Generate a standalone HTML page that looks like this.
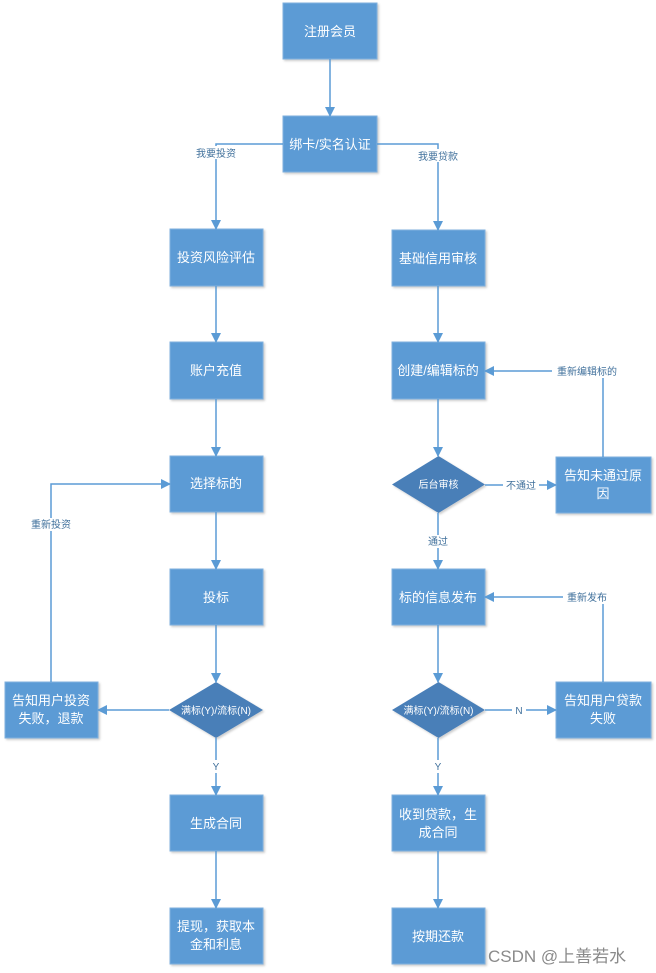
<!DOCTYPE html>
<html><head><meta charset="utf-8"><style>
html,body{margin:0;padding:0;background:#fff;}
svg{display:block;}
text{font-family:"Liberation Sans","Noto Sans CJK SC",sans-serif;}
.bt{fill:#fff;font-size:13px;text-anchor:middle;}
.lb{fill:#41719c;font-size:10px;text-anchor:middle;}
.ln{stroke:#5b9bd5;stroke-width:1.5;fill:none;}
</style></head><body>
<svg width="656" height="973" viewBox="0 0 656 973" xmlns="http://www.w3.org/2000/svg">
<defs>
<marker id="a" markerWidth="10" markerHeight="10" refX="9" refY="5" orient="auto" markerUnits="userSpaceOnUse"><path d="M0,0 L10,5 L0,10 z" fill="#5b9bd5"/></marker>
<filter id="s" x="-10%" y="-10%" width="130%" height="130%"><feDropShadow dx="1.5" dy="1.5" stdDeviation="1" flood-color="#000" flood-opacity="0.2"/></filter>
</defs>
<g fill="#5b9bd5" stroke="#7fb0de" stroke-width="1" filter="url(#s)">
<rect x="283" y="3" width="94" height="56"/>
<rect x="283" y="116" width="94" height="56"/>
<rect x="170" y="229" width="93" height="57"/>
<rect x="392" y="230" width="93" height="56"/>
<rect x="170" y="342" width="93" height="57"/>
<rect x="392" y="342" width="93" height="57"/>
<rect x="170" y="456" width="93" height="56"/>
<rect x="556" y="457" width="95" height="56"/>
<rect x="170" y="569" width="93" height="56"/>
<rect x="392" y="569" width="93" height="56"/>
<rect x="5" y="682" width="93" height="56"/>
<rect x="556" y="682" width="95" height="56"/>
<rect x="170" y="795" width="93" height="56"/>
<rect x="392" y="795" width="93" height="56"/>
<rect x="170" y="908" width="93" height="56"/>
<rect x="392" y="908" width="93" height="56"/>
</g>
<g fill="#4a7fb8" filter="url(#s)">
<polygon points="438.5,456 485,484.5 438.5,513 392,484.5"/>
<polygon points="216,682 263,710 216,738 169,710"/>
<polygon points="438.5,682 485,710 438.5,738 392,710"/>
</g>
<g class="ln">
<line x1="330" y1="59" x2="330" y2="116" marker-end="url(#a)"/>
<polyline points="283,144 216,144 216,229" marker-end="url(#a)"/>
<polyline points="377,144 438,144 438,230" marker-end="url(#a)"/>
<line x1="216" y1="286" x2="216" y2="342" marker-end="url(#a)"/>
<line x1="438" y1="286" x2="438" y2="342" marker-end="url(#a)"/>
<line x1="216" y1="399" x2="216" y2="456" marker-end="url(#a)"/>
<line x1="438" y1="399" x2="438" y2="456" marker-end="url(#a)"/>
<line x1="485" y1="485" x2="556" y2="485" marker-end="url(#a)"/>
<polyline points="603,457 603,371 485,371" marker-end="url(#a)"/>
<line x1="438" y1="513" x2="438" y2="569" marker-end="url(#a)"/>
<line x1="216" y1="512" x2="216" y2="569" marker-end="url(#a)"/>
<line x1="216" y1="625" x2="216" y2="682" marker-end="url(#a)"/>
<line x1="438" y1="625" x2="438" y2="682" marker-end="url(#a)"/>
<line x1="169" y1="710" x2="98" y2="710" marker-end="url(#a)"/>
<polyline points="51,682 51,484 170,484" marker-end="url(#a)"/>
<line x1="485" y1="710" x2="556" y2="710" marker-end="url(#a)"/>
<polyline points="603,682 603,597 485,597" marker-end="url(#a)"/>
<line x1="216" y1="738" x2="216" y2="795" marker-end="url(#a)"/>
<line x1="438" y1="738" x2="438" y2="795" marker-end="url(#a)"/>
<line x1="216" y1="851" x2="216" y2="908" marker-end="url(#a)"/>
<line x1="438" y1="851" x2="438" y2="908" marker-end="url(#a)"/>
</g>
<g fill="#fff">
<rect x="193" y="146" width="46" height="13"/>
<rect x="415" y="149" width="46" height="13"/>
<rect x="503" y="479" width="36" height="13"/>
<rect x="552" y="365" width="70" height="13"/>
<rect x="425" y="535" width="26" height="13"/>
<rect x="28" y="518" width="46" height="13"/>
<rect x="563" y="591" width="48" height="13"/>
<rect x="512" y="704" width="14" height="13"/>
<rect x="210" y="760" width="12" height="13"/>
<rect x="432" y="760" width="12" height="13"/>
</g>
<g class="lb">
<text x="216" y="157">我要投资</text>
<text x="438" y="160">我要贷款</text>
<text x="521" y="489">不通过</text>
<text x="587" y="375">重新编辑标的</text>
<text x="438" y="545">通过</text>
<text x="51" y="528">重新投资</text>
<text x="587" y="601">重新发布</text>
<text x="519" y="714">N</text>
<text x="216" y="770">Y</text>
<text x="438" y="770">Y</text>
</g>
<g class="bt">
<text x="330" y="36">注册会员</text>
<text x="330" y="149">绑卡/实名认证</text>
<text x="216" y="262">投资风险评估</text>
<text x="438" y="263">基础信用审核</text>
<text x="216" y="375">账户充值</text>
<text x="438" y="375">创建/编辑标的</text>
<text x="216" y="488">选择标的</text>
<text x="603" y="480">告知未通过原</text>
<text x="603" y="498">因</text>
<text x="216" y="602">投标</text>
<text x="438" y="602">标的信息发布</text>
<text x="51" y="705">告知用户投资</text>
<text x="51" y="723">失败，退款</text>
<text x="603" y="705">告知用户贷款</text>
<text x="603" y="723">失败</text>
<text x="216" y="828">生成合同</text>
<text x="438" y="819">收到贷款，生</text>
<text x="438" y="837">成合同</text>
<text x="216" y="931">提现，获取本</text>
<text x="216" y="949">金和利息</text>
<text x="438" y="941">按期还款</text>
</g>
<g fill="#fff" style="font-size:10px;text-anchor:middle;">
<text x="438.5" y="488">后台审核</text>
<text x="216" y="714">满标(Y)/流标(N)</text>
<text x="438.5" y="714">满标(Y)/流标(N)</text>
</g>
<text x="488" y="962" style="font-size:17px;fill:#8a8a8a;">CSDN @上善若水</text>
</svg>
</body></html>
